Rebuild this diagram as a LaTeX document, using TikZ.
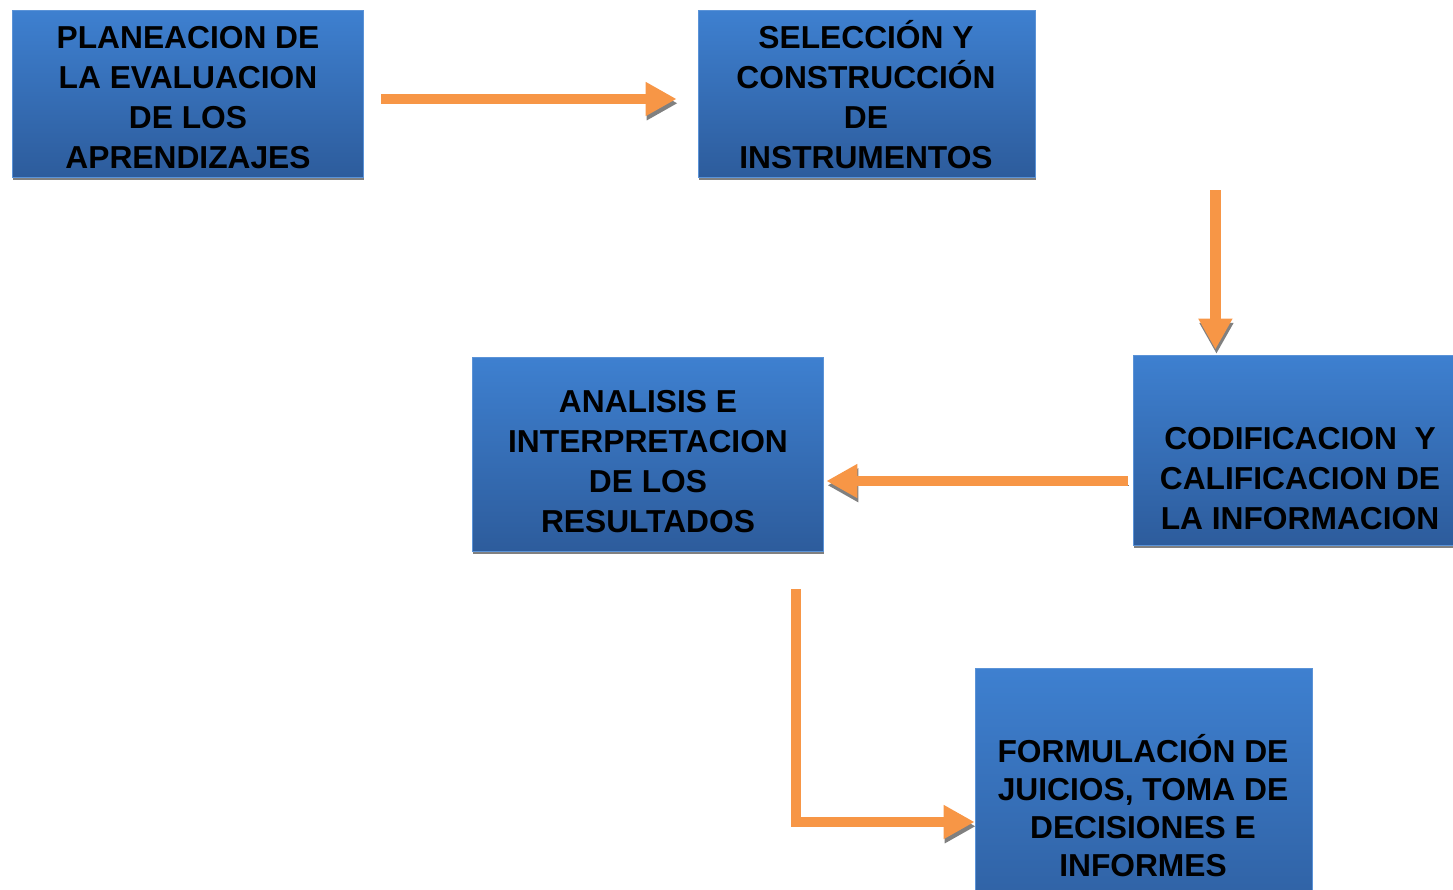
\documentclass[tikz,border=0pt]{standalone}
\usepackage{fontspec}
\setmainfont{Liberation Sans}
\usetikzlibrary{arrows.meta,calc,shadows}
\definecolor{boxtop}{RGB}{62,128,208}
\definecolor{boxbot}{RGB}{45,92,156}
\definecolor{arrorange}{RGB}{247,150,70}
\definecolor{shadegray}{RGB}{128,128,128}
\begin{document}
\begin{tikzpicture}[x=0.75pt,y=-0.75pt,
  box/.style={rectangle, inner sep=0pt, top color=boxtop, bottom color=boxbot,
    draw=boxtop!85!white, line width=0.6pt,
    drop shadow={shadow xshift=0.4pt, shadow yshift=-2pt, fill=shadegray, opacity=1}},
  txt/.style={align=center, inner sep=0pt, text=black,
    font=\bfseries\fontsize{23.8}{30}\selectfont},
  arr/.style={draw=arrorange, line width=7.9pt, line cap=butt,
    -{Triangle[length=23.25pt,width=24pt]},
    preaction={draw=shadegray, transform canvas={xshift=0.8pt,yshift=-3.2pt}}}
]
\useasboundingbox (0,0) rectangle (1453,889);
\clip (0,0) rectangle (1453,889);

% boxes
\node[box, minimum width=263.25pt, minimum height=125.25pt] (A) at (187.5,93.5) {};
\node[box, minimum width=252.75pt, minimum height=125.25pt] (B) at (866.5,93.5) {};
\node[box, minimum width=250.5pt, minimum height=142.5pt] (C) at (1300,450) {};
\node[box, minimum width=263.25pt, minimum height=145.5pt] (D) at (647.5,454) {};
\node[box, minimum width=252.75pt, minimum height=211.5pt] (E) at (1143.5,809) {};

% texts
\node[txt] (At) at (188,98) {PLANEACION DE\\LA EVALUACION\\DE LOS\\APRENDIZAJES};
\node[txt] (Bt) at (866,95) {SELECCIÓN Y\\CONSTRUCCIÓN\\DE\\INSTRUMENTOS};
\node[txt] (Ct) at (1300,479) {CODIFICACION\ \ Y\\CALIFICACION DE\\LA INFORMACION};
\node[txt] (Dt) at (648,461.5) {ANALISIS E\\INTERPRETACION\\DE LOS\\RESULTADOS};
\node[txt, font=\bfseries\fontsize{23.8}{28.5}\selectfont] (Et) at (1143,806) {FORMULACIÓN DE\\JUICIOS, TOMA DE\\DECISIONES E\\INFORMES};

% connectors
\draw[arr] ($(A.east)+(18,5.5)$) -- ($(B.west)+(-21,5.5)$);
\coordinate (s2) at ($(B.south east)+(180,13)$);
\draw[arr] (s2) -- ($(s2 |- C.north)+(0,-5)$);
\draw[arr] ($(C.west)+(-5,31)$) -- ($(D.east)+(3,27)$);
\coordinate (s4) at ($(D.south)+(148.5,38)$);
\draw[arr] (s4) |- ($(E.west)+(0,13)$);
\end{tikzpicture}
\end{document}
